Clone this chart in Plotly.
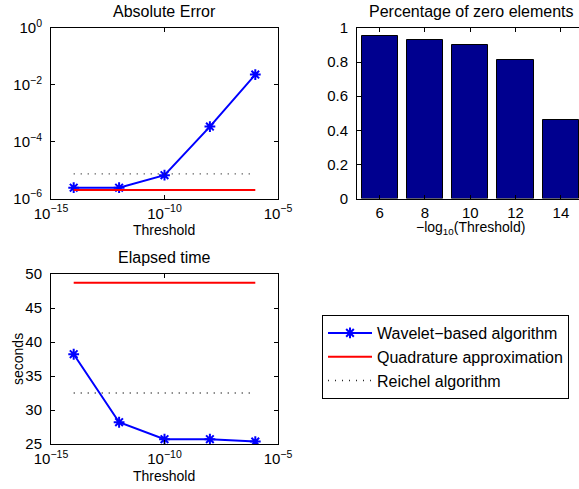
import plotly.graph_objects as go

# ---- data ----
thresholds = [1e-14, 1e-12, 1e-10, 1e-8, 1e-6]
wavelet_err = [2.4e-6, 2.4e-6, 6.6e-6, 3.4e-4, 2.3e-2]
quad_err = [2.0e-6, 2.0e-6, 2.0e-6, 2.0e-6, 2.0e-6]
reichel_err = [7.3e-6, 7.3e-6, 7.3e-6, 7.3e-6, 7.3e-6]

neglog_threshold = [6, 8, 10, 12, 14]
zero_fraction = [0.955, 0.929, 0.902, 0.815, 0.462]

wavelet_time = [38.2, 28.2, 25.7, 25.7, 25.35]
quad_time = [48.7, 48.7, 48.7, 48.7, 48.7]
reichel_time = [32.5, 32.5, 32.5, 32.5, 32.5]

log_tickvals = [1e-15, 1e-10, 1e-5]
log_ticktext = ["10<sup>\u221215</sup>", "10<sup>\u221210</sup>", "10<sup>\u22125</sup>"]
err_tickvals = [1e-6, 1e-4, 1e-2, 1e0]
err_ticktext = ["10<sup>\u22126</sup>", "10<sup>\u22124</sup>", "10<sup>\u22122</sup>", "10<sup>0</sup>"]

legend_names = ["Wavelet\u2212based algorithm", "Quadrature approximation", "Reichel algorithm"]

W, H = 579, 489
FONT = "Liberation Sans, Arial, Helvetica, sans-serif"

def px_x(p):
    return p / W

def px_y(p):
    return 1 - p / H

BLUE = "rgb(0,0,255)"
RED = "rgb(255,0,0)"
DOT = "rgb(40,40,40)"

fig = go.Figure()

# ---- subplot 1: absolute error ----
fig.add_trace(go.Scatter(x=thresholds, y=wavelet_err, mode="lines+markers",
                         line=dict(color=BLUE, width=2),
                         marker=dict(symbol="asterisk-open", size=9, line=dict(color=BLUE, width=2)),
                         xaxis="x", yaxis="y", showlegend=False))
fig.add_trace(go.Scatter(x=thresholds, y=quad_err, mode="lines",
                         line=dict(color=RED, width=2), xaxis="x", yaxis="y", showlegend=False))
fig.add_trace(go.Scatter(x=thresholds, y=reichel_err, mode="lines",
                         line=dict(color=DOT, width=1.3, dash="1px,6px"), xaxis="x", yaxis="y", showlegend=False))

# ---- subplot 2: bars ----
fig.add_trace(go.Bar(x=neglog_threshold, y=zero_fraction, width=1.6,
                     marker=dict(color="rgb(0,0,143)", line=dict(color="black", width=1)),
                     xaxis="x2", yaxis="y2", showlegend=False))

# ---- subplot 3: elapsed time ----
fig.add_trace(go.Scatter(x=thresholds, y=wavelet_time, mode="lines+markers", name=legend_names[0],
                         line=dict(color=BLUE, width=2),
                         marker=dict(symbol="asterisk-open", size=9, line=dict(color=BLUE, width=2)),
                         xaxis="x3", yaxis="y3"))
fig.add_trace(go.Scatter(x=thresholds, y=quad_time, mode="lines", name=legend_names[1],
                         line=dict(color=RED, width=2), xaxis="x3", yaxis="y3"))
fig.add_trace(go.Scatter(x=thresholds, y=reichel_time, mode="lines", name=legend_names[2],
                         line=dict(color=DOT, width=1.3, dash="1px,6px"), xaxis="x3", yaxis="y3"))

axis_common = dict(showline=True, linecolor="black", linewidth=1, ticks="inside", ticklen=4,
                   tickcolor="black", showgrid=False, zeroline=False, automargin=False,
                   tickfont=dict(family=FONT, size=15, color="black"))

fig.update_layout(
    width=W, height=H,
    margin=dict(l=0, r=0, t=0, b=0, autoexpand=False),
    paper_bgcolor="white", plot_bgcolor="white",
    font=dict(family=FONT, color="black"),
    xaxis=dict(type="log", range=[-15, -5], domain=[px_x(51), px_x(278)], anchor="y",
               tickvals=log_tickvals, ticktext=log_ticktext, mirror="ticks", ticklabelstandoff=1, **axis_common),
    yaxis=dict(type="log", range=[-6, 0], domain=[px_y(198.5), px_y(28)], anchor="x",
               tickvals=err_tickvals, ticktext=err_ticktext, mirror="ticks", ticklabelstandoff=5, **axis_common),
    xaxis2=dict(range=[5, 14.8], domain=[px_x(357), 1.0], anchor="y2",
                tickvals=neglog_threshold, mirror="ticks", ticklabelstandoff=0, **axis_common),
    yaxis2=dict(range=[0, 1], domain=[px_y(198.5), px_y(28)], anchor="x2",
                tickvals=[0, 0.2, 0.4, 0.6, 0.8, 1], ticktext=["0", "0.2", "0.4", "0.6", "0.8", "1"],
                mirror=False, ticklabelstandoff=5, **axis_common),
    xaxis3=dict(type="log", range=[-15, -5], domain=[px_x(51), px_x(278)], anchor="y3",
                tickvals=log_tickvals, ticktext=log_ticktext, mirror="ticks", ticklabelstandoff=1, **axis_common),
    yaxis3=dict(range=[25, 50], domain=[px_y(444), px_y(274)], anchor="x3",
                tickvals=[25, 30, 35, 40, 45, 50], mirror="ticks", ticklabelstandoff=5, **axis_common),
    legend=dict(x=px_x(322), y=px_y(315), xanchor="left", yanchor="top",
                bordercolor="black", borderwidth=1, bgcolor="white", itemwidth=44,
                font=dict(family=FONT, size=16, color="black"), tracegroupgap=0),
    bargap=0,
)

def label(text, x, y, size=14, angle=0):
    fig.add_annotation(text=text, x=px_x(x), y=px_y(y), xref="paper", yref="paper",
                       showarrow=False, xanchor="center", yanchor="middle",
                       textangle=angle, font=dict(family=FONT, size=size, color="black"))

label("Absolute Error", 164.5, 11.5, 16)
label("Percentage of zero elements", 471, 11.5, 16)
label("Elapsed time", 164.5, 257, 16)
label("Threshold", 164.5, 230, 14)
label("\u2212log<sub>10</sub>(Threshold)", 470, 228, 14)
label("Threshold", 164.5, 476, 14)
label("seconds", 18, 359, 14, -90)

# remove the browser's default 8px body margin so the figure sits at the window origin
fig.write_html("out.html", config={"displayModeBar": False},
               post_script="document.body.style.margin='0';")
